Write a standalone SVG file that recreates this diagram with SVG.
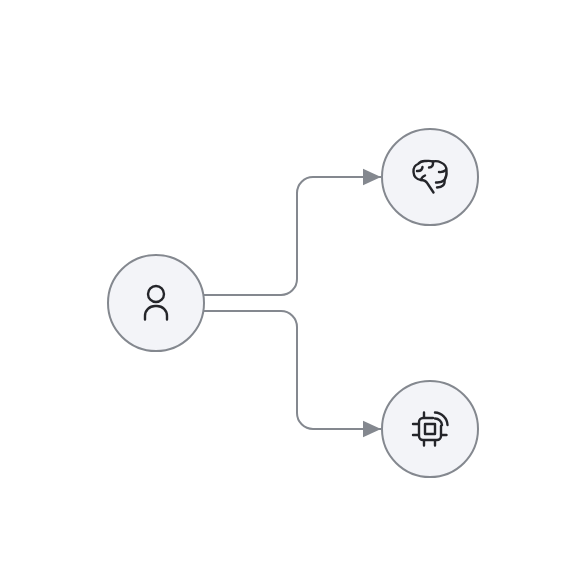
<svg xmlns="http://www.w3.org/2000/svg" width="576" height="578" viewBox="0 0 576 578">
<style>
.n{fill:#f3f4f8;stroke:#84888f;stroke-width:2}
.c{fill:none;stroke:#84888f;stroke-width:2}
.i{fill:none;stroke:#24252a;stroke-width:2.4;stroke-linecap:round;stroke-linejoin:round}
</style>
<defs><marker id="a" markerUnits="userSpaceOnUse" markerWidth="18" markerHeight="18" refX="18" refY="9" orient="auto"><path d="M0 0.700L18 9L0 17.300Z" fill="#84888f"/></marker></defs>
<rect width="576" height="578" fill="#fff"/>
<g id="connectors">
<path class="c" marker-end="url(#a)" d="M204 295H281A16 16 0 0 0 297 279V193A16 16 0 0 1 313 177H381"/>
<path class="c" marker-end="url(#a)" d="M204 311H281A16 16 0 0 1 297 327V413A16 16 0 0 0 313 429H381"/>
</g>
<g id="user">
<circle class="n" cx="156" cy="303" r="48"/>
<circle class="i" cx="156" cy="294" r="8"/>
<path class="i" d="M145 319.500V316A10 10 0 0 1 155 306H157A10 10 0 0 1 167 316V319.500"/>
</g>
<g id="brain">
<circle class="n" cx="430" cy="177" r="48"/>
<path class="i" d="M433.500 192.500L427.500 183.500Q425.500 180 421 180Q414 179 413.500 172Q413 166 418 164Q421 160.500 426 161Q430 160.500 433 161.500Q437 160.500 441 162.500Q447 165 446.500 171Q447 176 444.500 180Q445.500 187 437 187.500"/>
<path class="i" d="M417 171Q422 171.500 422.500 167M421 180Q421.500 177 425 175.500M429 167.500Q433.500 167.500 433 161.500M439 172Q443 172.500 446 170M436 182.500Q441 183 444.500 180"/>
</g>
<g id="chip">
<circle class="n" cx="430" cy="429" r="48"/>
<path class="i" d="M433 418H423A4 4 0 0 0 419 422V436A4 4 0 0 0 423 440H437A4 4 0 0 0 441 436V426"/>
<rect class="i" x="425" y="424" width="10" height="10" stroke-linejoin="miter"/>
<path class="i" d="M424 412.500V417M424 441V445.500M435 441V445.500M413 424H418M413 435H418M442 435H446.500"/>
<path class="i" d="M435 412.500A13 13 0 0 1 447.500 425M435 418.500A7 7 0 0 1 442 425"/>
</g>
</svg>
